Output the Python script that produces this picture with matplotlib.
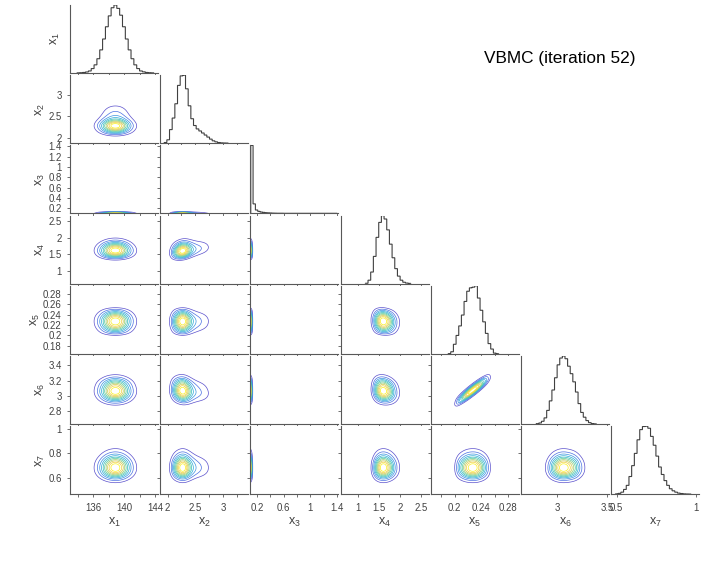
import numpy as np
import matplotlib
matplotlib.use("Agg")
import matplotlib.pyplot as plt

plt.rcParams['font.family'] = ['Liberation Sans', 'DejaVu Sans']
plt.rcParams['mathtext.fontset'] = 'custom'
plt.rcParams['mathtext.rm'] = 'Liberation Sans'
plt.rcParams['mathtext.it'] = 'Liberation Sans'
plt.rcParams['mathtext.default'] = 'regular'

# histogram heights (fraction of the peak)
hist_x1 = [.002, .004, .008, .015, .03, .065, .12, .21, .34, .50, .68, .84, .96, 1,
           .95, .85, .68, .5, .34, .21, .12, .065, .03, .017, .008, .004, .002]
hist_x2 = [.01, .05, .2, .37, .58, .85, .99, 1, .80, .55, .36, .26, .21, .18, .15, .12,
           .09, .06, .035, .02, .01, .005, .003, .002]
hist_x3 = [1, .14, .05, .03, .02, .015, .01, .008, .006, .004, .003, .002, .002, .002,
           .001, .001, .001, .001, .001, .001, .001, .001, .001, .001, .001, .001, .001,
           .001, .001, .001, .001, .001, .001, .001, .001, .001, .001]
hist_x4 = [.005, .05, .17, .40, .68, .90, 1, .95, .79, .58, .38, .22, .11, .05, .02, .008, .003]
hist_x5 = [.003, .03, .14, .27, .41, .57, .77, .92, .97, .98, 1, .82, .64, .47, .30, .15,
           .07, .01, .002]
hist_x6 = [.005, .015, .04, .09, .2, .34, .5, .68, .87, .97, 1, .96, .85, .74, .62, .47,
           .30, .17, .10, .05, .02, .006, .002]
hist_x7 = [.005, .012, .03, .07, .13, .26, .42, .60, .80, .95, .995, 1, .97, .85, .72, .56,
           .40, .29, .20, .13, .08, .05, .03, .016, .01, .005, .003, .002]
hists = [hist_x1, hist_x2, hist_x3, hist_x4, hist_x5, hist_x6, hist_x7]

bin_start = [133.86, 1.94, 0.105, 1.185, 0.1904, 2.788, 0.492]
bin_width = [0.37, 0.0481, 0.035, 0.0632, 0.00398, 0.0263, 0.017]

# x3 density is much tighter against the axis in the contour panels than its histogram
x3_density_at = [.1, .12, .135, .16]
x3_density = [1, .5, .08, 0]

limits = [(132.95, 144.4), (1.868, 3.456), (0.1, 1.42), (0.6, 2.68),
          (0.1646, 0.296), (2.635, 3.52), (0.465, 1.02)]

xticks = [[134, 136, 138, 140, 142, 144],
          [2, 2.25, 2.5, 2.75, 3, 3.25],
          [0.2, 0.4, 0.6, 0.8, 1, 1.2, 1.4],
          [1, 1.5, 2, 2.5],
          [0.18, 0.2, 0.22, 0.24, 0.26, 0.28],
          [3, 3.5],
          [0.5, 1]]
xticklabels = [['', '136', '', '140', '', '144'],
               ['2', '', '2.5', '', '3', ''],
               ['0.2', '', '0.6', '', '1', '', '1.4'],
               ['1', '1.5', '2', '2.5'],
               ['', '0.2', '', '0.24', '', '0.28'],
               ['3', '3.5'],
               ['0.5', '1']]
yticks = [[],
          [2, 2.5, 3],
          [0.2, 0.4, 0.6, 0.8, 1, 1.2, 1.4],
          [1, 1.5, 2, 2.5],
          [0.18, 0.2, 0.22, 0.24, 0.26, 0.28],
          [2.8, 3, 3.2, 3.4],
          [0.6, 0.8, 1]]
yticklabels = [[],
               ['2', '2.5', '3'],
               ['0.2', '0.4', '0.6', '0.8', '1', '1.2', '1.4'],
               ['1', '1.5', '2', '2.5'],
               ['0.18', '0.2', '0.22', '0.24', '0.26', '0.28'],
               ['2.8', '3', '3.2', '3.4'],
               ['0.6', '0.8', '1']]

# correlation seen in the off-diagonal panels (column, row)
pair_corr = {(1, 3): 0.25, (1, 5): -0.12, (3, 4): -0.08, (3, 5): -0.12, (4, 5): 0.9}

levels = [.09, .18, .27, .36, .45, .54, .63, .72, .81, .90]
level_colors = ['#5a50cc', '#4a70e2', '#3a94e0', '#2aaad6', '#35bcb8', '#5ac89a',
                '#98cc70', '#d0c850', '#f2d040', '#f9f020']
names = ['$x_{%d}$' % (i + 1) for i in range(7)]
ylabel_pad = [6, 1, 1, 1, 1, 1, 1]

line_col = '#585858'
text_col = '#404040'
W, H = 706.0, 562.0

fig = plt.figure(figsize=(W / 100, H / 100), dpi=100)


def centers(k):
    return bin_start[k] + bin_width[k] * (np.arange(len(hists[k])) + 0.5)


def marginal(k, v):
    if k == 2:
        return np.interp(v, x3_density_at, x3_density)
    # smooth the log of the histogram so the contours come out as round as the original
    fine = np.linspace(limits[k][0], limits[k][1], 800)
    logd = np.interp(fine, centers(k), np.log(hists[k]))
    n = max(3, int(round(bin_width[k] * 2.5 / (fine[1] - fine[0]))))
    box = np.ones(n) / n
    for _ in range(2):
        logd = np.convolve(np.pad(logd, n, mode='edge'), box, mode='same')[n:-n]
    dens = np.exp(logd)
    return np.interp(v, fine, dens / dens.max())


def spread(k):
    c = centers(k)
    w = np.array(hists[k])
    m = (c * w).sum() / w.sum()
    return m, np.sqrt((w * (c - m) ** 2).sum() / w.sum())


for row in range(7):
    for col in range(row + 1):
        left = 70 + 90.2 * col
        top = 5 + 70.2 * row
        ax = fig.add_axes([left / W, 1 - (top + 68) / H, 88 / W, 68 / H])
        ax.spines['top'].set_visible(False)
        ax.spines['right'].set_visible(False)
        for s in ['left', 'bottom']:
            ax.spines[s].set_color(line_col)
            ax.spines[s].set_linewidth(0.8)
        ax.tick_params(direction='out', length=2, width=0.6, color=line_col,
                       labelcolor=text_col, labelsize=6.9, pad=4)

        ax.set_xlim(limits[col])
        ax.set_xticks(xticks[col])
        ax.set_xticklabels(xticklabels[col] if row == 6 else [])

        if row == col:
            edges = bin_start[col] + bin_width[col] * np.arange(len(hists[col]) + 1)
            st = ax.stairs(hists[col], edges, color='#404040', linewidth=0.8)
            st.set_snap(False)
            ax.set_ylim(0, 1.0)
            ax.set_yticks([])
        else:
            xg = np.linspace(limits[col][0], limits[col][1], 300)
            yg = np.linspace(limits[row][0], limits[row][1], 300)
            X, Y = np.meshgrid(xg, yg)
            rho = pair_corr.get((col, row), 0.0)
            if rho != 0:
                mx, sx = spread(col)
                my, sy = spread(row)
                Yc = my + (Y - my - rho * sy / sx * (X - mx)) / np.sqrt(1 - rho ** 2)
            else:
                Yc = Y
            Z = marginal(col, X) * marginal(row, Yc)
            ax.contour(X, Y, Z, levels=levels, colors=level_colors, linewidths=0.5)
            ax.set_ylim(limits[row])
            ax.set_yticks(yticks[row])
            ax.set_yticklabels(yticklabels[row] if col == 0 else [])

        if col == 0:
            ax.set_ylabel(names[row], fontsize=9, color=text_col, labelpad=ylabel_pad[row])
        if row == 6:
            ax.set_xlabel(names[col], fontsize=9, color=text_col, labelpad=2.5)

fig.text(559.5 / W, 1 - 58 / H, 'VBMC (iteration 52)', fontsize=12.4, color='black',
         ha='center', va='center')

fig.savefig('out.png', dpi=100)
